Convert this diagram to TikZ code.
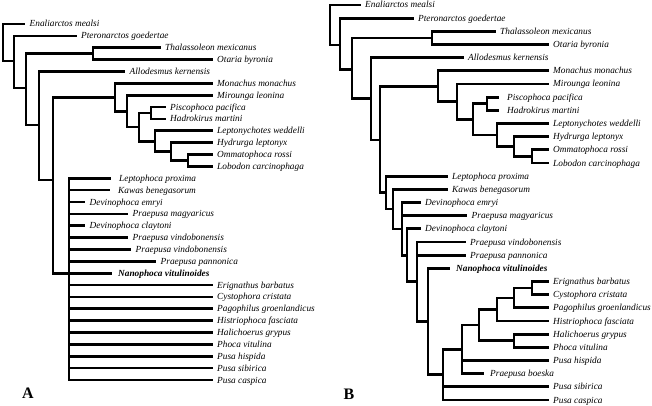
\documentclass[tikz,border=0pt]{standalone}
\usepackage{fontspec}
\setmainfont{Liberation Serif}
\begin{document}
\begin{tikzpicture}[x=1pt,y=-1pt,
  br/.style={line width=2.7pt},
  tip/.style={line width=2.7pt, shorten >=4.5pt},
  lbl/.style={anchor=west, inner sep=0pt, text height=6pt, text depth=0pt,
              font=\fontsize{9.3}{10}\selectfont\itshape},
  blbl/.style={lbl, font=\fontsize{9.3}{10}\selectfont\bfseries\itshape},
  panel/.style={inner sep=0pt, font=\fontsize{16}{16}\selectfont\bfseries}]
\useasboundingbox (0,0) rectangle (652,406);

% ================= Tree A =================
\node[lbl] (A0)  at (29.5,24.0)  {Enaliarctos mealsi};
\node[lbl] (A1)  at (81,35.9)    {Pteronarctos goedertae};
\node[lbl] (A2)  at (165,47.7)   {Thalassoleon mexicanus};
\node[lbl] (A3)  at (217,59.6)   {Otaria byronia};
\node[lbl] (A4)  at (129.5,71.5) {Allodesmus kernensis};
\node[lbl] (A5)  at (217,83.3)   {Monachus monachus};
\node[lbl] (A6)  at (217,95.2)   {Mirounga leonina};
\node[lbl] (A7)  at (170,107.1)  {Piscophoca pacifica};
\node[lbl] (A8)  at (170,118.9)  {Hadrokirus martini};
\node[lbl] (A9)  at (217,130.8)  {Leptonychotes weddelli};
\node[lbl] (A10) at (217,142.7)  {Hydrurga leptonyx};
\node[lbl] (A11) at (217,154.5)  {Ommatophoca rossi};
\node[lbl] (A12) at (217,166.4)  {Lobodon carcinophaga};
\node[lbl] (A13) at (119,178.3)  {Leptophoca proxima};
\node[lbl] (A14) at (118,190.1)  {Kawas benegasorum};
\node[lbl] (A15) at (89.5,202.0) {Devinophoca emryi};
\node[lbl] (A16) at (132.5,213.9){Praepusa magyaricus};
\node[lbl] (A17) at (89.5,225.7) {Devinophoca claytoni};
\node[lbl] (A18) at (132.5,237.6){Praepusa vindobonensis};
\node[lbl] (A19) at (135.5,249.5){Praepusa vindobonensis};
\node[lbl] (A20) at (160.5,261.3){Praepusa pannonica};
\node[blbl] (A21) at (118,273.2) {Nanophoca vitulinoides};
\node[lbl] (A22) at (217,285.1)  {Erignathus barbatus};
\node[lbl] (A23) at (217,296.9)  {Cystophora cristata};
\node[lbl] (A24) at (217,308.8)  {Pagophilus groenlandicus};
\node[lbl] (A25) at (217,320.7)  {Histriophoca fasciata};
\node[lbl] (A26) at (217,332.5)  {Halichoerus grypus};
\node[lbl] (A27) at (217,344.4)  {Phoca vitulina};
\node[lbl] (A28) at (217,356.3)  {Pusa hispida};
\node[lbl] (A29) at (217,368.1)  {Pusa sibirica};
\node[lbl] (A30) at (217,380.0)  {Pusa caspica};

\coordinate (aR)  at (3,42);
\coordinate (a13) at (14,61);
\coordinate (a12) at (26,88);
\coordinate (a1)  at (93,53.7);
\coordinate (a11) at (39,125);
\coordinate (a10) at (53,180);
\coordinate (a8)  at (115,97.3);
\coordinate (a7)  at (127,111.2);
\coordinate (a6)  at (139,127.1);
\coordinate (a2)  at (151,113.0);
\coordinate (a5)  at (155,141.2);
\coordinate (a4)  at (171,151.6);
\coordinate (a3)  at (188,160.5);
\coordinate (a9)  at (69,273.2);

\draw[tip] (aR) |- (A0.west);
\draw[br]  (aR) |- (a13);
\draw[tip] (a13) |- (A1.west);
\draw[br]  (a13) |- (a12);
\draw[br]  (a12) |- (a1);
\draw[tip] (a1) |- (A2.west);
\draw[tip] (a1) |- (A3.west);
\draw[br]  (a12) |- (a11);
\draw[tip] (a11) |- (A4.west);
\draw[br]  (a11) |- (a10);
\draw[br]  (a10) |- (a8);
\draw[tip] (a8) |- (A5.west);
\draw[br]  (a8) |- (a7);
\draw[tip] (a7) |- (A6.west);
\draw[br]  (a7) |- (a6);
\draw[br]  (a6) |- (a2);
\draw[tip] (a2) |- (A7.west);
\draw[tip] (a2) |- (A8.west);
\draw[br]  (a6) |- (a5);
\draw[tip] (a5) |- (A9.west);
\draw[br]  (a5) |- (a4);
\draw[tip] (a4) |- (A10.west);
\draw[br]  (a4) |- (a3);
\draw[tip] (a3) |- (A11.west);
\draw[tip] (a3) |- (A12.west);
\draw[br]  (a10) |- (a9);
\draw[tip, shorten >=8pt] (a9) |- (A13.west);
\draw[tip, shorten >=8pt] (a9) |- (A14.west);
\foreach \i in {15,...,20} {\draw[tip] (a9) |- (A\i.west);}
\draw[tip, shorten >=6pt] (a9) |- (A21.west);
\foreach \i in {22,...,30} {\draw[tip] (a9) |- (A\i.west);}

\node[panel] (PA) at (28,393.5) {A};

% ================= Tree B =================
\node[lbl] (B0)  at (365,5.0)    {Enaliarctos mealsi};
\node[lbl] (B1)  at (418,18.2)   {Pteronarctos goedertae};
\node[lbl] (B2)  at (500,31.3)   {Thalassoleon mexicanus};
\node[lbl] (B3)  at (553,44.5)   {Otaria byronia};
\node[lbl] (B4)  at (468,57.7)   {Allodesmus kernensis};
\node[lbl] (B5)  at (553,70.8)   {Monachus monachus};
\node[lbl] (B6)  at (553,84.0)   {Mirounga leonina};
\node[lbl] (B7)  at (507,97.2)   {Piscophoca pacifica};
\node[lbl] (B8)  at (507,110.3)  {Hadrokirus martini};
\node[lbl] (B9)  at (553,123.5)  {Leptonychotes weddelli};
\node[lbl] (B10) at (553,136.7)  {Hydrurga leptonyx};
\node[lbl] (B11) at (553,149.8)  {Ommatophoca rossi};
\node[lbl] (B12) at (553,163.0)  {Lobodon carcinophaga};
\node[lbl] (B13) at (452,176.2)  {Leptophoca proxima};
\node[lbl] (B14) at (452,189.3)  {Kawas benegasorum};
\node[lbl] (B15) at (425,202.5)  {Devinophoca emryi};
\node[lbl] (B16) at (471.5,215.7){Praepusa magyaricus};
\node[lbl] (B17) at (425,228.8)  {Devinophoca claytoni};
\node[lbl] (B18) at (470,242.0)  {Praepusa vindobonensis};
\node[lbl] (B19) at (470,255.2)  {Praepusa pannonica};
\node[blbl] (B20) at (456,268.3) {Nanophoca vitulinoides};
\node[lbl] (B21) at (553,281.5)  {Erignathus barbatus};
\node[lbl] (B22) at (553,294.7)  {Cystophora cristata};
\node[lbl] (B23) at (553,307.8)  {Pagophilus groenlandicus};
\node[lbl] (B24) at (553,321.0)  {Histriophoca fasciata};
\node[lbl] (B25) at (553,334.2)  {Halichoerus grypus};
\node[lbl] (B26) at (553,347.3)  {Phoca vitulina};
\node[lbl] (B27) at (553,360.5)  {Pusa hispida};
\node[lbl] (B28) at (490,373.7)  {Praepusa boeska};
\node[lbl] (B29) at (553,386.8)  {Pusa sibirica};
\node[lbl] (B30) at (553,400.0)  {Pusa caspica};

\coordinate (b26) at (330,24);
\coordinate (b25) at (340,45);
\coordinate (b24) at (352,69.5);
\coordinate (b1)  at (432,37.9);
\coordinate (b23) at (371,98.6);
\coordinate (b22) at (380,140);
\coordinate (b8)  at (438,86.3);
\coordinate (b7)  at (457,101.7);
\coordinate (b6)  at (473,119.4);
\coordinate (b2)  at (487,103.8);
\coordinate (b5)  at (497,135.0);
\coordinate (b4)  at (514,146.5);
\coordinate (b3)  at (532,156.4);
\coordinate (b21) at (386,192.7);
\coordinate (b20) at (393,209.1);
\coordinate (b19) at (402,228.9);
\coordinate (b18) at (407,255.3);
\coordinate (b17) at (417,281.8);
\coordinate (b16) at (428,321.5);
\coordinate (b15) at (443,374.7);
\coordinate (b14) at (462,349.4);
\coordinate (b13) at (479,325.0);
\coordinate (b11) at (497,309.5);
\coordinate (b10) at (514,298.0);
\coordinate (b9)  at (532,288.1);
\coordinate (b12) at (514,340.8);

\draw[tip] (b26) |- (B0.west);
\draw[br]  (b26) |- (b25);
\draw[tip] (b25) |- (B1.west);
\draw[br]  (b25) |- (b24);
\draw[br]  (b24) |- (b1);
\draw[tip] (b1) |- (B2.west);
\draw[tip] (b1) |- (B3.west);
\draw[br]  (b24) |- (b23);
\draw[tip] (b23) |- (B4.west);
\draw[br]  (b23) |- (b22);
\draw[br]  (b22) |- (b8);
\draw[tip] (b8) |- (B5.west);
\draw[br]  (b8) |- (b7);
\draw[tip] (b7) |- (B6.west);
\draw[br]  (b7) |- (b6);
\draw[br]  (b6) |- (b2);
\draw[tip, shorten >=8pt] (b2) |- (B7.west);
\draw[tip, shorten >=8pt] (b2) |- (B8.west);
\draw[br]  (b6) |- (b5);
\draw[tip] (b5) |- (B9.west);
\draw[br]  (b5) |- (b4);
\draw[tip] (b4) |- (B10.west);
\draw[br]  (b4) |- (b3);
\draw[tip] (b3) |- (B11.west);
\draw[tip] (b3) |- (B12.west);
\draw[br]  (b22) |- (b21);
\draw[tip] (b21) |- (B13.west);
\draw[br]  (b21) |- (b20);
\draw[tip] (b20) |- (B14.west);
\draw[br]  (b20) |- (b19);
\draw[tip] (b19) |- (B15.west);
\draw[tip] (b19) |- (B16.west);
\draw[br]  (b19) |- (b18);
\draw[tip] (b18) |- (B17.west);
\draw[br]  (b18) |- (b17);
\draw[tip] (b17) |- (B18.west);
\draw[tip] (b17) |- (B19.west);
\draw[br]  (b17) |- (b16);
\draw[tip, shorten >=6pt] (b16) |- (B20.west);
\draw[br]  (b16) |- (b15);
\draw[br]  (b15) |- (b14);
\draw[br]  (b14) |- (b13);
\draw[br]  (b13) |- (b11);
\draw[br]  (b11) |- (b10);
\draw[br]  (b10) |- (b9);
\draw[tip] (b9) |- (B21.west);
\draw[tip] (b9) |- (B22.west);
\draw[tip] (b10) |- (B23.west);
\draw[tip] (b11) |- (B24.west);
\draw[br]  (b13) |- (b12);
\draw[tip] (b12) |- (B25.west);
\draw[tip] (b12) |- (B26.west);
\draw[tip] (b14) |- (B27.west);
\draw[tip, shorten >=6pt] (b14) |- (B28.west);
\draw[tip] (b15) |- (B29.west);
\draw[tip] (b15) |- (B30.west);

\node[panel] (PB) at (349,394) {B};
\end{tikzpicture}
\end{document}
